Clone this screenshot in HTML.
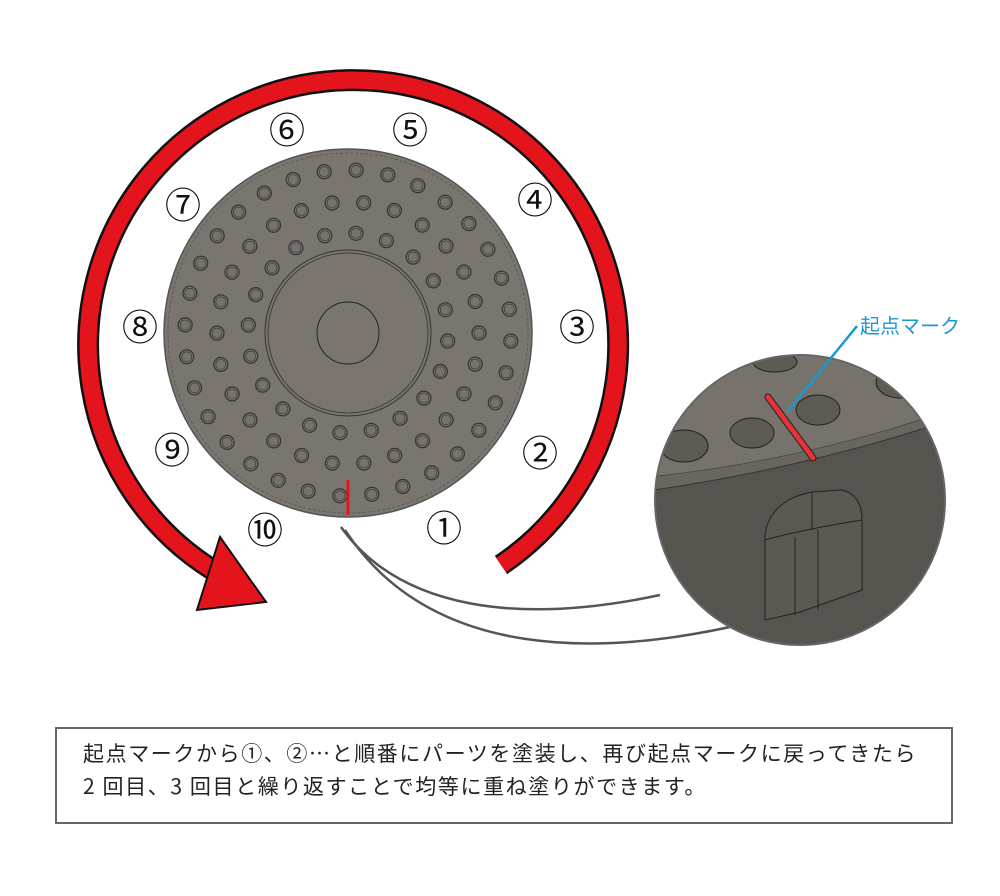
<!DOCTYPE html>
<html><head><meta charset="utf-8"><style>
html,body{margin:0;padding:0;background:#fff;width:1000px;height:896px;overflow:hidden}
svg{position:absolute;left:0;top:0}
.box{position:absolute;left:55px;top:727px;width:894px;height:93px;border:2px solid #666;box-sizing:content-box}
.box p{margin:0;position:absolute;left:26px;font-family:"Noto Sans CJK JP",sans-serif;font-size:21px;line-height:30px;letter-spacing:1.6px;color:#222;white-space:nowrap}
</style></head><body>
<svg width="1000" height="896" viewBox="0 0 1000 896" xmlns="http://www.w3.org/2000/svg">
<defs><clipPath id="ic"><circle cx="800" cy="500" r="145"/></clipPath></defs>
<path d="M501 565 A265 265 0 1 0 213 570" fill="none" stroke="#111" stroke-width="22"/>
<path d="M501 565 A265 265 0 1 0 213 570" fill="none" stroke="#e3141c" stroke-width="17"/>
<polygon points="220,537 266,602 197,610" fill="#e3141c" stroke="#111" stroke-width="2"/>
<circle cx="348" cy="333" r="184" fill="#7a766f" stroke="#555" stroke-width="1.5"/>
<circle cx="348" cy="333" r="180" fill="none" stroke="#555" stroke-width="0.8" stroke-dasharray="3 2"/>
<circle cx="348" cy="333" r="83" fill="none" stroke="#333" stroke-width="1"/>
<circle cx="348" cy="333" r="80" fill="none" stroke="#333" stroke-width="0.8"/>
<circle cx="348" cy="333" r="31" fill="none" stroke="#222" stroke-width="1"/>
<g id="holes" fill="#77736c" stroke="#333" stroke-width="1.2"></g>
<line x1="348" y1="480" x2="348" y2="515" stroke="#e3141c" stroke-width="3"/>
<g font-family="Noto Sans CJK JP,sans-serif" font-size="36" fill="#111" text-anchor="middle">
<text x="444" y="541">①</text><text x="540" y="466">②</text><text x="577" y="340">③</text>
<text x="535" y="213">④</text><text x="410" y="143">⑤</text><text x="287" y="143">⑥</text>
<text x="183" y="218">⑦</text><text x="140" y="340">⑧</text><text x="172" y="463">⑨</text>
<text x="265" y="543">⑩</text></g>
<path d="M341 527 C400 610 520 625 660 595" fill="none" stroke="#555" stroke-width="2.5"/>
<path d="M345 530 C430 660 600 660 760 620" fill="none" stroke="#555" stroke-width="2.5"/>
<g clip-path="url(#ic)">
<rect x="650" y="350" width="300" height="300" fill="#57544f"/>
<path d="M640 478 Q800 462 950 410 L950 340 L640 340 Z" fill="#77726c"/>
<path d="M640 492 Q800 470 950 420 L950 410 Q800 462 640 478 Z" fill="#6a665f"/>
<path d="M640 492 Q800 470 950 420" fill="none" stroke="#333" stroke-width="1"/>
<path d="M640 478 Q800 462 950 410" fill="none" stroke="#444" stroke-width="0.8"/>
<g fill="#5e5a54" stroke="#222" stroke-width="1">
<ellipse cx="684" cy="446" rx="24" ry="16"/><ellipse cx="752" cy="433" rx="22" ry="15"/>
<ellipse cx="818" cy="410" rx="22" ry="15"/><ellipse cx="775" cy="362" rx="22" ry="10"/>
<ellipse cx="900" cy="382" rx="24" ry="16"/></g>
<path d="M765 535 Q770 500 812 492 L842 490 Q862 495 862 520 L862 590 L800 612 L765 620 Z" fill="#5c5953" stroke="#222" stroke-width="1"/>
<path d="M795 537 L795 615 M818 530 L818 610 M765 540 Q800 530 862 520 M812 492 L812 530" fill="none" stroke="#222" stroke-width="1"/>
</g>
<circle cx="800" cy="500" r="145" fill="none" stroke="#666" stroke-width="2"/>
<line x1="768" y1="397" x2="813" y2="458" stroke="#222" stroke-width="7" stroke-linecap="round"/>
<line x1="768" y1="397" x2="813" y2="458" stroke="#e8323a" stroke-width="5" stroke-linecap="round"/>
<line x1="857" y1="326" x2="787" y2="412" stroke="#1a98d4" stroke-width="2.5"/>
<text x="860" y="333" font-family="Noto Sans CJK JP,sans-serif" font-size="20" fill="#1a98d4">起点マーク</text>
</svg>
<div class="box">
<p style="top:9px">起点マークから①、②…と順番にパーツを塗装し、再び起点マークに戻ってきたら</p>
<p style="top:42px">2 回目、3 回目と繰り返すことで均等に重ね塗りができます。</p>
</div>
<script>
var g=document.getElementById('holes'),s='';
[[163,32,0.05],[131,26,0.12],[100,20,0.08]].forEach(function(r){
for(var i=0;i<r[1];i++){var a=2*Math.PI*i/r[1]+r[2]+Math.PI/2;
var x=348+r[0]*Math.cos(a),y=333+r[0]*Math.sin(a);
s+='<circle cx="'+x.toFixed(1)+'" cy="'+y.toFixed(1)+'" r="7"/><circle cx="'+x.toFixed(1)+'" cy="'+y.toFixed(1)+'" r="5" fill="none" stroke-width="0.6"/>';}});
g.innerHTML=s;
</script>
</body></html>
